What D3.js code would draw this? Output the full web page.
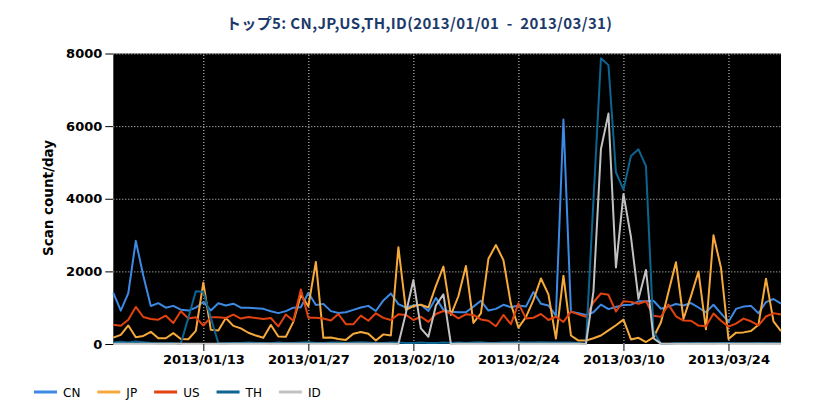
<!DOCTYPE html>
<html lang="ja">
<head>
  <meta charset="UTF-8">
  <title>トップ5</title>
  <script src='https://d3js.org/d3.v7.min.js'></script>
  <style>
    html, body {
      margin: 0;
      background-color: #ffffff;
      font-family: 'DejaVu Sans', sans-serif;
    }
    .grid line {
      stroke: #d8d8d8;
      stroke-width: 1px;
      stroke-dasharray: 1,2;
    }
    .axis path {
      display: none;
    }
    .axis text {
      font-family: 'DejaVu Sans', sans-serif;
      font-size: 13px;
      font-weight: bold;
      fill: #000;
    }
  </style>
</head>

<body>
  <div id='chart'></div>

  <script type='text/javascript'>
    const startDate = '2013-01-01'
    const tickDates = ['2013-01-13', '2013-01-27', '2013-02-10', '2013-02-24', '2013-03-10', '2013-03-24']
    const yTicks = [0, 2000, 4000, 6000, 8000]
    const countries = ['CN', 'JP', 'US', 'TH', 'ID']

    // one value per day, 2013/01/01 .. 2013/03/31
    const cnValues = [
      1410, 920, 1400, 2840, 1880, 1045, 1125, 1000, 1050, 945,
      920, 1000, 1155, 925, 1120, 1060, 1110, 1000, 1000, 985,
      968, 900, 850, 905, 1000, 1010, 1410, 1075, 1105, 905,
      855, 873, 940, 1005, 1050, 910, 1200, 1390, 1100, 1005,
      1060, 1080, 910, 1270, 940, 890, 873, 873, 1030, 1190,
      920, 967, 1080, 1014, 1060, 1030, 1430, 1110, 1060, 780,
      6180, 890, 845, 800, 873, 1085, 960, 1020, 1075, 1080,
      1175, 1180, 1190, 970, 1030, 1100, 1060, 1127, 1005, 873,
      1080, 845, 615, 967, 1030, 1050, 845, 1155, 1240, 1110
    ]
    const jpValues = [
      177, 250, 510, 186, 223, 335, 158, 158, 300, 140,
      130, 363, 1690, 390, 372, 716, 500, 430, 310, 232,
      170, 525, 205, 200, 610, 1350, 1040, 2260, 170, 180,
      140, 113, 280, 330, 280, 94, 265, 235, 2665, 940,
      1045, 1080, 1005, 1600, 2130, 800, 1315, 2150, 580, 845,
      2345, 2725, 2310, 1100, 450, 740, 1210, 1805, 1365, 150,
      1880, 235, 94, 94, 160, 235, 375, 516, 670, 125,
      170, 55, 180, 600, 1430, 2250, 690, 1320, 1995, 405,
      2995, 2100, 140, 313, 320, 360, 532, 1800, 625, 357
    ]
    const usValues = [
      530, 500, 670, 1020, 744, 690, 670, 780, 577, 900,
      700, 735, 510, 735, 735, 716, 810, 700, 744, 716,
      690, 716, 484, 810, 640, 1500, 720, 720, 700, 645,
      827, 545, 545, 780, 640, 845, 720, 660, 817, 800,
      660, 750, 610, 826, 910, 845, 705, 817, 800, 676,
      640, 490, 800, 545, 1120, 705, 723, 826, 660, 750,
      610, 890, 817, 750, 1150, 1390, 1355, 895, 1178, 1160,
      1108, 1178, 780, 747, 1085, 763, 645, 640, 508, 490,
      840, 640, 478, 560, 700, 625, 513, 757, 850, 813
    ]
    const thValues = [
      40, 60, 40, 70, 50, 30, 20, 20, 20, 10,
      720, 1455, 1440, 720, 20, 20, 30, 30, 40, 30,
      30, 20, 40, 30, 30, 40, 50, 30, 30, 40,
      40, 30, 40, 50, 40, 30, 30, 40, 40, 30,
      30, 40, 30, 30, 40, 30, 40, 30, 40, 50,
      30, 30, 40, 40, 50, 40, 40, 50, 40, 40,
      40, 40, 30, 10, 3950, 7870, 7680, 4730, 4250, 5180,
      5360, 4900, 340, 10, 10, 20, 20, 20, 30, 20,
      20, 30, 30, 20, 20, 20, 30, 20, 20, 20
    ]
    const idValues = [
      10, 10, 10, 10, 10, 10, 10, 10, 10, 10,
      10, 10, 10, 10, 10, 10, 10, 10, 10, 10,
      10, 10, 10, 10, 10, 10, 10, 10, 10, 10,
      10, 10, 10, 10, 10, 10, 10, 10, 0, 850,
      1760, 430, 200, 1060, 1365, 0, 10, 10, 10, 10,
      10, 10, 10, 10, 10, 10, 10, 10, 10, 10,
      10, 10, 10, 0, 1450, 5370, 6345, 2110, 4130, 2950,
      1240, 2040, 160, 10, 10, 10, 10, 10, 10, 10,
      10, 10, 10, 10, 10, 10, 10, 10, 10, 10
    ]
    const seriesValues = [cnValues, jpValues, usValues, thValues, idValues]
    const seriesColors = ['#3d8ae4', '#f7aa3c', '#e2420f', '#0d6490', '#c2c2c2']

    const width = 840
    const height = 420
    const margin = { top: 53.5, right: 59, bottom: 76, left: 113.3 }

    const parseDate = d3.utcParse('%Y-%m-%d')
    const day0 = parseDate(startDate)
    const dates = cnValues.map((v, i) => d3.utcDay.offset(day0, i))

    const x = d3.scaleUtc()
      .domain([dates[0], dates[dates.length - 1]])
      .range([margin.left, width - margin.right])

    const y = d3.scaleLinear()
      .domain([0, 8000])
      .range([height - margin.bottom, margin.top])

    const svg = d3.select('#chart').append('svg')
      .attr('width', width)
      .attr('height', height)

    // black plot area
    svg.append('rect')
      .attr('x', x.range()[0])
      .attr('y', y.range()[1])
      .attr('width', x.range()[1] - x.range()[0])
      .attr('height', y.range()[0] - y.range()[1])
      .style('fill', '#000')

    svg.append('g')
      .attr('class', 'grid')
      .attr('transform', `translate(0,${y.range()[0]})`)
      .call(d3.axisBottom(x).tickValues(tickDates.map(parseDate))
        .tickSize(-(y.range()[0] - y.range()[1])).tickFormat(''))
      .select('.domain').remove()

    svg.append('g')
      .attr('class', 'grid')
      .attr('transform', `translate(${x.range()[0]},0)`)
      .call(d3.axisLeft(y).tickValues(yTicks.filter(t => t > 0))
        .tickSize(-(x.range()[1] - x.range()[0])).tickFormat(''))
      .select('.domain').remove()

    const line = d3.line()
      .x((d, i) => x(dates[i]))
      .y(d => y(d))

    svg.append('g')
      .selectAll('path')
      .data(seriesValues)
      .enter()
      .append('path')
      .attr('d', d => line(d))
      .style('fill', 'none')
      .style('stroke', (d, i) => seriesColors[i])
      .style('stroke-width', '2px')
      .style('stroke-linejoin', 'round')

    svg.append('g')
      .attr('class', 'axis')
      .attr('transform', `translate(0,${y.range()[0]})`)
      .call(d3.axisBottom(x).tickValues(tickDates.map(parseDate))
        .tickSize(7).tickPadding(4).tickFormat(d3.utcFormat('%Y/%m/%d')))
      .selectAll('line').style('stroke', '#000')

    svg.append('g')
      .attr('class', 'axis')
      .attr('transform', `translate(${x.range()[0]},0)`)
      .call(d3.axisLeft(y).tickValues(yTicks).tickSize(8).tickPadding(3)
        .tickFormat(d3.format('d')))
      .selectAll('line').style('stroke', '#000')

    svg.append('text')
      .attr('x', 419)
      .attr('y', 29)
      .attr('xml:space', 'preserve')
      .attr('textLength', 386)
      .attr('lengthAdjust', 'spacing')
      .style('text-anchor', 'middle')
      .style('font-family', "'Noto Sans CJK JP', sans-serif")
      .style('font-size', '15px')
      .style('font-weight', 'bold')
      .style('fill', '#1c3a6a')
      .text('トップ5: CN,JP,US,TH,ID(2013/01/01  -  2013/03/31)')

    svg.append('text')
      .attr('transform', 'translate(53,198) rotate(-90)')
      .style('text-anchor', 'middle')
      .style('font-size', '13.5px')
      .style('font-weight', 'bold')
      .text('Scan count/day')

    // legend, items laid out by text width
    const legend = svg.append('g').attr('transform', 'translate(34,392)')
    let legendX = 0
    countries.forEach((name, i) => {
      const item = legend.append('g').attr('transform', `translate(${legendX},0)`)
      item.append('line')
        .attr('x1', 0).attr('x2', 23)
        .attr('y1', 0).attr('y2', 0)
        .style('stroke', seriesColors[i])
        .style('stroke-width', '3px')
      const label = item.append('text')
        .attr('x', 29)
        .attr('y', 5)
        .style('font-size', '12px')
        .text(name)
      legendX += 29 + label.node().getComputedTextLength() + 17
    })
  </script>
</body>

</html>
